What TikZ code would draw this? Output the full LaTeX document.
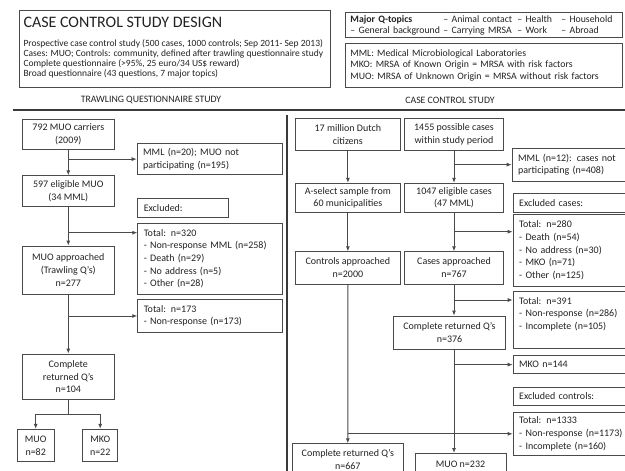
\documentclass[tikz,border=0pt]{standalone}
\usepackage{fontspec}
\setmainfont{Carlito}
\usepackage{tikz}
\usetikzlibrary{
  arrows.meta,
  positioning,
  calc
}
\definecolor{BoxLine}{HTML}{4A4A4A}
\definecolor{InkDark}{HTML}{222222}
\definecolor{RuleDark}{HTML}{3A3A3A}
\newcommand{\boxfont}{\fontsize{10}{12.7}\selectfont}
\newcommand{\titlefont}{\fontsize{16}{19}\selectfont}
\newcommand{\hdrfont}{\fontsize{9.5}{10.2}\selectfont}
\newcommand{\notefont}{\fontsize{9.8}{11.5}\selectfont}
\newcommand{\secfont}{\fontsize{9.8}{12}\selectfont}
\tikzset{
  % Flow box: centred text, size given per node
  stage/.style={
    rectangle, draw=BoxLine, line width=0.9pt,
    inner sep=0pt, align=center,
    text=InkDark, font=\boxfont
  },
  % Exclusion box: left aligned, hung from its top-left corner
  excl/.style={
    rectangle, draw=BoxLine, line width=0.9pt,
    anchor=north west, inner xsep=6pt, inner ysep=0pt,
    text width=#1, align=left,
    text=InkDark, font=\boxfont
  },
  % Header frame
  hdr/.style={
    rectangle, draw=BoxLine, line width=0.9pt,
    anchor=north west, inner xsep=5pt, inner ysep=0pt,
    text=InkDark
  },
  % Section caption
  sec/.style={font=\secfont, text=InkDark, inner sep=0pt},
  % Arrow
  arr/.style={
    -{Latex[length=5pt,width=4pt]},
    line width=0.9pt, color=#1
  },
  arr/.default=BoxLine,
  % Divider rules
  divider/.style={line width=#1, color=RuleDark}
}
\newcommand{\topic}[2]{\makebox[#1][l]{#2}}
\begin{document}
\begin{tikzpicture}[x=1pt, y=-1pt]
  \useasboundingbox (0,0) rectangle (625,471);
  \clip (0,0) rectangle (625,471);

  % Header boxes
  \node[hdr, minimum width=310.7, minimum height=77.3] (design) at (19.3,10) {};
  \node[anchor=base west, inner sep=0pt, font=\titlefont, text=InkDark] (designtitle) at (23.3,27.4) {CASE CONTROL STUDY DESIGN};
  \node[anchor=north west, inner sep=0pt, align=left, font=\hdrfont, text=InkDark] (designtext) at (23.3,39.2)
    {Prospective case control study (500 cases, 1000 controls; Sep 2011- Sep 2013)\\
     Cases: MUO; Controls: community, defined after trawling questionnaire study\\
     Complete questionnaire (>95\%, 25 euro/34 US\$ reward)\\
     Broad questionnaire (43 questions, 7 major topics)};

  \node[hdr, minimum width=277.3, minimum height=25, text width=267.3, align=left, font=\notefont] (topics) at (345,12.3)
    {\topic{93pt}{\textbf{Major Q-topics}}\topic{74pt}{– Animal contact}\topic{44pt}{– Health}– Household\\
     \topic{93pt}{– General background}\topic{74pt}{– Carrying MRSA}\topic{44pt}{– Work}– Abroad};
  \node[hdr, minimum width=277.3, minimum height=44, text width=267.3, align=left, font=\notefont] (abbrev) at (345,42.7)
    {MML: Medical Microbiological Laboratories\\
     MKO: MRSA of Known Origin = MRSA with risk factors\\
     MUO: MRSA of Unknown Origin = MRSA without risk factors};

  % Section captions and dividers
  \node[sec] (trawlcap) at (151,100) {TRAWLING QUESTIONNAIRE STUDY};
  \node[sec] (casecap)  at (450,100) {CASE CONTROL STUDY};
  \draw[divider=1.4pt] (12.7,110) -- (625,110);
  \draw[divider=2pt]   (286.8,115) -- (286.8,471);

  % Trawling questionnaire study: main flow
  \node[stage, minimum width=91.3, minimum height=30]   (carriers)   at (68.3,134.3)  {792 MUO carriers\\(2009)};
  \node[stage, minimum width=91.3, minimum height=30.3] (eligible)   at (68.3,190.9)  {597 eligible MUO\\(34 MML)};
  \node[stage, minimum width=91.3, minimum height=48]   (approached) at (68.3,270)    {MUO approached\\(Trawling Q’s)\\n=277};
  \node[stage, minimum width=91.3, minimum height=45.3] (complete)   at (68.3,376.7)  {Complete\\returned Q’s\\n=104};
  \node[stage, minimum width=36.7, minimum height=32.4] (muo82)      at (35.7,445.5)  {MUO\\n=82};
  \node[stage, minimum width=35,   minimum height=32.4] (mko22)      at (100.2,445.5) {MKO\\n=22};

  % Trawling questionnaire study: drop-outs
  \node[excl=133,   minimum height=30.7] (notpart) at (136.7,143.3) {MML (n=20); MUO not\\participating (n=195)};
  \node[excl=79,    minimum height=18.4] (exclq)   at (137.3,198.3) {Excluded:};
  \node[excl=132.4, minimum height=71.3] (tot320)  at (137.3,222.7) {Total: n=320\\- Non-response MML (n=258)\\- Death (n=29)\\- No address (n=5)\\- Other (n=28)};
  \node[excl=132.4, minimum height=32.4] (tot173)  at (137.3,299.3) {Total: n=173\\- Non-response (n=173)};

  \coordinate (tot320in) at ([yshift=-10pt]tot320.north west);

  \draw[arr] (carriers)   -- (eligible);
  \draw[arr] (eligible)   -- (approached);
  \draw[arr] (approached) -- (complete);
  \draw[arr] (carriers.south |- notpart.west) -- (notpart.west);
  \draw[arr] (eligible.south |- tot320in)     -- (tot320in);
  \draw[arr] (approached.south |- tot173.west) -- (tot173.west);
  \draw[arr] (complete.south) -- ++(0,14.7) -| (muo82.north);
  \draw[arr] (complete.south) -- ++(0,14.7) -| (mko22.north);

  % Case control study: controls and cases
  \node[stage, minimum width=105.7, minimum height=32.4] (dutch)     at (347.9,134.5) {17 million Dutch\\citizens};
  \node[stage, minimum width=99,    minimum height=32.4] (possible)  at (454,134.5)   {1455 possible cases\\within study period};
  \node[stage, minimum width=105.7, minimum height=29]   (aselect)   at (347.9,197.8) {A-select sample from\\60 municipalities};
  \node[stage, minimum width=98.3,  minimum height=29]   (eligcases) at (454,197.8)   {1047 eligible cases\\(47 MML)};
  \node[stage, minimum width=105.7, minimum height=32.3] (controls)  at (347.9,267.9) {Controls approached\\n=2000};
  \node[stage, minimum width=98.3,  minimum height=32.3] (cases)     at (454,267.9)   {Cases approached\\n=767};
  \node[stage, minimum width=112.4, minimum height=33.3] (retcases)  at (449.5,332.7) {Complete returned Q’s\\n=376};
  \node[stage, minimum width=111,   minimum height=31, anchor=north] (retctrl) at (347.8,443.3) {Complete returned Q’s\\n=667};
  \node[stage, minimum width=91,    minimum height=21, anchor=north] (muo232)  at (460.5,453) {MUO n=232};

  % Case control study: drop-outs
  \node[excl=122, minimum height=33]   (mml12)     at (511.7,147.7) {MML (n=12): cases not\\participating (n=408)};
  \node[excl=121, minimum height=19]   (exclcases) at (512.7,193.3) {Excluded cases:};
  \node[excl=121, minimum height=71.4] (tot280)    at (512.7,214.3) {Total: n=280\\- Death (n=54)\\- No address (n=30)\\- MKO (n=71)\\- Other (n=125)};
  \node[excl=121, minimum height=57.8] (tot391)    at (512.7,290.5) {Total: n=391\\- Non-response (n=286)\\- Incomplete (n=105)\\~};
  \node[excl=121, minimum height=18.3] (mko144)    at (512.7,355)   {MKO n=144};
  \node[excl=121, minimum height=18.3] (exclctrl)  at (512.7,386.7) {Excluded controls:};
  \node[excl=121, minimum height=43.3] (tot1333)   at (512.7,411.7) {Total: n=1333\\- Non-response (n=1173)\\- Incomplete (n=160)};

  \coordinate (tot280in) at ([yshift=-17.4pt]tot280.north west);
  \coordinate (tot391in) at ([yshift=-9.5pt]tot391.north west);

  \draw[arr] (dutch)     -- (aselect);
  \draw[arr] (aselect)   -- (controls);
  \draw[arr] (controls)  -- (retctrl);
  \draw[arr] (possible)  -- (eligcases);
  \draw[arr] (eligcases) -- (cases);
  \draw[arr] (cases.south) -- (cases.south |- retcases.north);
  \draw[arr] (cases.south |- retcases.south) -- (cases.south |- muo232.north);
  \draw[arr] (possible.south |- mml12.west)   -- (mml12.west);
  \draw[arr] (eligcases.south |- tot280in)    -- (tot280in);
  \draw[arr] (cases.south |- tot391in)        -- (tot391in);
  \draw[arr] (cases.south |- mko144.west)     -- (mko144.west);
  \draw[arr] (controls.south |- tot1333.west) -- (tot1333.west);

\end{tikzpicture}
\end{document}
